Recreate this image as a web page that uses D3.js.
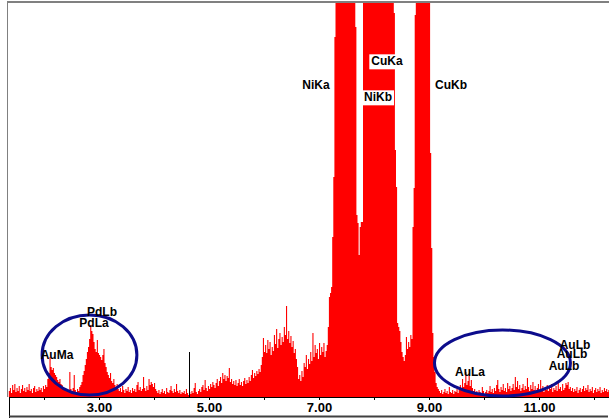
<!DOCTYPE html>
<html>
<head>
<meta charset="utf-8">
<script src="https://cdn.jsdelivr.net/npm/d3@7"></script>
<style>
html, body { margin: 0; padding: 0; background: #fff; }
svg { display: block; }
text { font-family: "Liberation Sans", Arial, sans-serif; font-weight: bold; }
</style>
</head>
<body>
<svg id="chart" width="609" height="419"></svg>
<script>
// spectrum channels: start energy and width (keV)
const startKeV = 1.36;
const stepKeV = 0.02;

// counts per channel (peaks above the frame are clipped)
const countsAuMaPd = [
  6,9,4,12,7,13,5,9,6,11, 4,8,12,6,9,5,10,7,13,6, 8,4,9,11,5,8,6,10,7,9,
  5,11,8,12,10,18,24,40,30,27, 29,24,22,20,17,15,18,13,12,10, 8,9,6,7,5,25,8,6,9,22,
  7,5,8,6,10,12,15,22,26,32, 38,45,50,58,72,66,63,55,48,45, 57,44,42,40,37,42,48,34,30,25,
  22,19,24,16,14,18,12,10,13,8
];
const countsMid = [
  6,9,5,11,7,4,8,6,10,5, 7,4,9,6,8,5,12,15,7,10, 6,8,20,9,6,11,7,18,12,15,
  13,10,14,8,6,4,7,3,5,8, 4,6,3,9,5,4,7,11,6,4, 8,5,13,6,4,7,3,5,4,6,
  3,8,4,2,5,3,6,4,9,14, 5,3,6,8,5,10,12,7,17,9, 6,11,8,13,10,15,12,9,14,18,
  11,16,20,14,24,18,22,16,21,19
];
const countsBremss = [
  29,15,18,13,16,12,17,11,14,18, 12,15,11,16,19,13,17,14,20,16, 22,27,19,24,21,26,23,28,25,32,
  40,59,45,52,44,57,48,55,42,50, 46,62,53,68,49,58,64,52,60,55, 70,62,91,58,66,54,61,50,56,44,
  48,38,30,18,22,16,26,20,34,30, 42,28,38,33,45,36,64,40,52,44, 48,38,54,42,50,45,54,40,46,52
];
const countsNiCu = [
  70,100,104,110,160,220,360,
  420,520,640,780,900,1010,1090,1140,1160,1150,1110,1040,950,840,720,600,500,420,
  370,182,174,142,170,175,175,
  420,600,850,1100,1350,1550,1700,1780,1800,1760,1660,1500,1320,1120,950,800,690,610,560,540,530,520,505,485,460,440,420,400,
  384,247,210,74,70,66,55,45,40,36,42,60,48,55,50,62,58,170,209,382,
  430,520,600,660,690,700,690,660,610,550,490,440,410,
  244,149,64,40,25,14,10,8
];
const countsAuL = [
  6,4,7,3,5,8,4,6,3,10, 5,4,7,3,6,5,8,4,9,12, 8,18,10,14,25,12,16,22,11,17,
  9,6,8,4,6,3,7,5,4,10, 6,3,5,7,4,6,11,5,8,4, 9,6,12,17,8,5,10,7,13,6,
  9,5,14,8,11,6,9,13,7,20, 10,16,8,12,6,9,13,7,11,8, 19,10,6,12,8,15,7,11,5,9,
  13,6,17,8,11,5,9,7,12,6, 10,8,13,5,9,7,11,6,14,8, 10,6,13,7,9,14,12,15,8,10,
  6,9,5,8,6,10,4,7,9,5, 8,11,6,9,7,12,5,8,6,10, 4,7,9,5,8,6,10,4,7,5,
  9,6,8,5,7
];

const tickKeV = [2,3,4,5,6,7,8,9,10,11,12];

// cursor line
const cursorKeV = 4.64;
const cursorCounts = 45;

// peak labels: energy (keV), height (counts), boxed on white
const labelText = ['NiKa','CuKa','NiKb','CuKb','PdLb','PdLa','AuMa','AuLa','AuLb','AuLb','AuLb'];
const labelKeV  = [6.945, 8.236, 8.073, 9.40, 3.055, 2.909, 2.236, 9.745, 11.655, 11.60, 11.455];
const labelCnt  = [312, 336, 300, 312, 85, 74, 42.5, 25, 52.5, 43, 31.5];
const labelBox  = [false, true, true, false, false, false, false, false, false, false, false];

// circled regions: centre keV, centre counts, half width keV, half height counts
const ringKeV = [2.827, 10.336];
const ringCnt = [42, 34];
const ringRx  = [0.862, 1.236];
const ringRy  = [40, 33];

const counts = [].concat(countsAuMaPd, countsMid, countsBremss, countsNiCu, countsAuL);
const spectrum = counts.map((c, i) => ({e: startKeV + i * stepKeV, c}));
spectrum.push({e: startKeV + counts.length * stepKeV, c: counts[counts.length - 1]});

const svg = d3.select('#chart');
const x = d3.scaleLinear([2, 12], [44, 594]);
const y = d3.scaleLinear([0, 394], [397, 3]);

svg.append('clipPath').attr('id', 'plot-clip')
  .append('rect').attr('x', 8).attr('y', 3).attr('width', 601).attr('height', 394);

// spectrum
svg.append('path')
  .datum(spectrum)
  .attr('clip-path', 'url(#plot-clip)')
  .attr('fill', '#ff0000')
  .attr('d', d3.area()
    .x(d => x(d.e))
    .y0(y(0))
    .y1(d => y(d.c))
    .curve(d3.curveStepAfter));

// cursor
svg.append('line')
  .attr('x1', Math.round(x(cursorKeV)) + 0.5).attr('x2', Math.round(x(cursorKeV)) + 0.5)
  .attr('y1', y(0)).attr('y2', y(cursorCounts))
  .attr('stroke', '#000').attr('stroke-width', 1);

// frame
svg.append('line').attr('x1', 7).attr('x2', 609).attr('y1', 2).attr('y2', 2)
  .attr('stroke', '#808080').attr('stroke-width', 2);
svg.append('line').attr('x1', 7.5).attr('x2', 7.5).attr('y1', 2).attr('y2', 397)
  .attr('stroke', '#808080');
svg.append('line').attr('x1', 9.5).attr('x2', 9.5).attr('y1', 397).attr('y2', 418)
  .attr('stroke', '#000');
svg.append('line').attr('x1', 9).attr('x2', 608).attr('y1', 416.5).attr('y2', 416.5)
  .attr('stroke', '#404040').attr('stroke-width', 2);
svg.append('line').attr('x1', 9).attr('x2', 609).attr('y1', 397.5).attr('y2', 397.5)
  .attr('stroke', '#000');

// axis
svg.append('g')
  .attr('transform', 'translate(0,397)')
  .call(d3.axisBottom(x)
    .tickValues(tickKeV)
    .tickSize(3)
    .tickFormat(d => d % 2 ? d.toFixed(2) : ''))
  .call(g => g.select('.domain').remove())
  .call(g => g.selectAll('.tick line').attr('stroke', '#000'))
  .call(g => g.selectAll('.tick text').attr('font-size', 13).attr('fill', '#000'));

// circled regions
svg.append('g').selectAll('ellipse')
  .data(ringKeV)
  .join('ellipse')
    .attr('cx', d => x(d))
    .attr('cy', (d, i) => y(ringCnt[i]))
    .attr('rx', (d, i) => x(d + ringRx[i]) - x(d))
    .attr('ry', (d, i) => y(0) - y(ringRy[i]))
    .attr('fill', 'none')
    .attr('stroke', '#0c0c8c')
    .attr('stroke-width', 3);

// labels
const lab = svg.append('g').selectAll('g')
  .data(labelText)
  .join('g')
    .attr('transform', (d, i) => `translate(${x(labelKeV[i])},${y(labelCnt[i])})`);
lab.append('text')
  .attr('text-anchor', 'middle')
  .attr('dy', '0.36em')
  .attr('font-size', 12)
  .attr('fill', '#000')
  .text(d => d);
lab.filter((d, i) => labelBox[i]).each(function() {
  const t = d3.select(this).select('text');
  const b = t.node().getBBox();
  d3.select(this).insert('rect', 'text')
    .attr('x', b.x - 2).attr('y', b.y)
    .attr('width', b.width + 4).attr('height', b.height + 1)
    .attr('fill', '#fff');
});
</script>
</body>
</html>
